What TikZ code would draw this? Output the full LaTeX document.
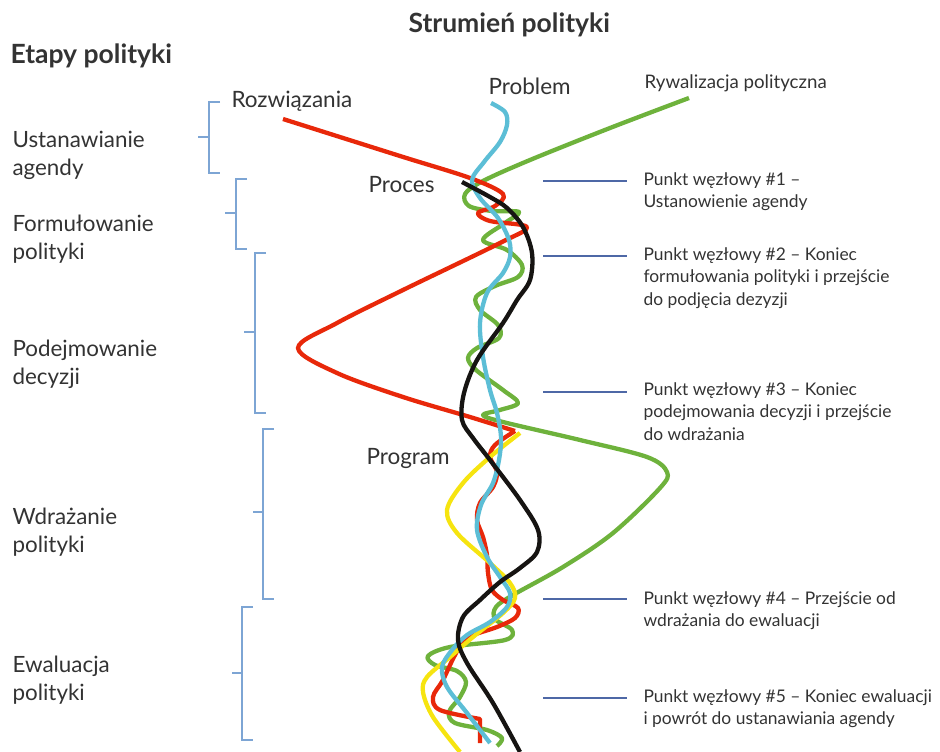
\documentclass[tikz,border=0pt]{standalone}
\usepackage{fontspec}
\setmainfont{Lato}
\usetikzlibrary{positioning}

\definecolor{txtgray}{RGB}{51,51,51}
\definecolor{brkblue}{RGB}{125,165,212}
\definecolor{lineblue}{RGB}{78,104,166}
\definecolor{strred}{RGB}{232,40,10}
\definecolor{strgreen}{RGB}{110,178,60}
\definecolor{strcyan}{RGB}{92,190,214}
\definecolor{stryellow}{RGB}{246,228,16}
\definecolor{strblack}{RGB}{22,20,18}

\tikzset{
  stage/.style={anchor=west, align=left, text=txtgray, font=\fontsize{22.4}{28}\selectfont},
  head/.style={anchor=west, text=txtgray, font=\fontsize{26.5}{30}\selectfont\bfseries},
  note/.style={anchor=north west, align=left, text=txtgray, font=\fontsize{17.4}{22.5}\selectfont},
  lbl/.style={anchor=west, text=txtgray, font=\fontsize{22.5}{26}\selectfont},
  brk/.style={draw=brkblue, line width=2pt},
  juncture/.style={draw=lineblue, line width=2pt},
  stream/.style={line width=4.3pt, line join=round, line cap=butt}
}

\begin{document}
\begin{tikzpicture}[x=1pt,y=1pt,yscale=-1,xscale=1]
\path[use as bounding box] (0,0) rectangle (940,752);

% Headings
\draw (405,25) node (strumien) [head] {Strumień polityki};
\draw (7,56) node (etapy) [head] {Etapy polityki};

% Stages of policy
\draw (9,155) node (agenda) [stage] {Ustanawianie\\agendy};
\draw (9,239) node (formul) [stage] {Formułowanie\\polityki};
\draw (9,364.5) node (decyzje) [stage] {Podejmowanie\\decyzji};
\draw (9,532) node (wdraz) [stage] {Wdrażanie\\polityki};
\draw (9,680.5) node (ewal) [stage] {Ewaluacja\\polityki};

%Shape: Brackets
\draw [brk] (220,102) -- (209,102) -- (209,173) -- (220,173) (198,137) -- (209,137);
\draw [brk] (247,179) -- (236,179) -- (236,249) -- (247,249) (225,213) -- (236,213);
\draw [brk] (266,253) -- (255,253) -- (255,413) -- (266,413) (244,332) -- (255,332);
\draw [brk] (274,429) -- (263,429) -- (263,599) -- (274,599) (253,512) -- (263,512);
\draw [brk] (253,607) -- (242,607) -- (242,740) -- (253,740) (232,673) -- (242,673);

% Stream labels
\draw (228,101) node (rozw) [lbl] {Rozwiązania};
\draw (485,86) node (probl) [lbl] {Problem};
\draw (641,83) node (rywal) [lbl, font=\fontsize{18.7}{22}\selectfont] {Rywalizacja polityczna};
\draw (365,185) node (proces) [lbl] {Proces};
\draw (363,458) node (progr) [lbl] {Program};

%Straight Lines: critical junctures
\draw [juncture] (543,181) -- (627,181);
\draw [juncture] (543,256) -- (627,256);
\draw [juncture] (543,392) -- (627,392);
\draw [juncture] (543,599) -- (627,599);
\draw [juncture] (543,698) -- (627,698);

% Text Node
\draw (640,169) node (pw1) [note] {Punkt węzłowy \#1 –\\Ustanowienie agendy};
\draw (640,244) node (pw2) [note] {Punkt węzłowy \#2 – Koniec\\formułowania polityki i przejście\\do podjęcia dezyzji};
\draw (640,379) node (pw3) [note] {Punkt węzłowy \#3 – Koniec\\podejmowania decyzji i przejście\\do wdrażania};
\draw (640,588) node (pw4) [note] {Punkt węzłowy \#4 – Przejście od\\wdrażania do ewaluacji};
\draw (640,686) node (pw5) [note] {Punkt węzłowy \#5 – Koniec ewaluacji\\i powrót do ustanawiania agendy};

%Curve: Rywalizacja polityczna
\draw [stream, strgreen] plot [smooth, tension=0.55] coordinates {
  (689,98) (610,128) (530,160) (483,181) (465,194) (469,206) (492,211) (519,212)
  (505,223) (483,240) (507,250) (522,265) (518,277) (495,286) (476,297) (480,310)
  (498,325) (499,338) (477,348) (468,358) (476,370) (503,390) (518,403) (500,410)
  (483,415) (503,422) (580,440) (647,457) (667,472) (660,488) (613,533) (563,567)
  (513,595) (496,607) (495,619) (512,630) (505,640) (450,647) (428,656) (435,665)
  (457,671) (466,682) (460,697) (449,712) (455,723) (487,730) (502,738) (497,746)};

%Curve: Rozwiązania
\draw [stream, strred] plot [smooth, tension=0.55] coordinates {
  (283,119) (400,156) (470,178) (503,194) (495,206) (478,213) (490,221) (527,227)
  (500,243) (403,290) (337,323) (298,348) (337,373) (403,397) (470,417) (515,431)};
\draw [stream, strred] plot [smooth, tension=0.55] coordinates {
  (515,431) (495,445) (490,457) (497,472) (493,487) (480,503) (477,520) (483,537)
  (487,555) (488,573) (492,590) (503,600) (518,608) (515,618) (497,627) (467,638)
  (455,655) (443,680) (433,697) (440,710) (480,719)} -- (480,743);

%Curve: Program
\draw [stream, stryellow] plot [smooth, tension=0.55] coordinates {
  (520,433) (490,457) (463,483) (447,510) (457,533) (490,563) (510,583) (515,598)
  (503,613) (473,637) (450,657) (427,677) (423,692) (433,717) (460,752)};

%Curve: Problem
\draw [stream, strcyan] plot [smooth, tension=0.55] coordinates {
  (491,103) (505,112) (507,125) (500,142) (484,162) (472,180) (480,198) (498,218)
  (509,240) (510,257) (503,273) (487,293) (480,323) (483,357) (490,390) (497,413)
  (501,437) (499,460) (493,483) (481,505) (477,530) (487,557) (500,577) (510,593)
  (507,607) (490,622) (467,635) (452,650) (442,667) (447,687) (467,713) (490,743)};

%Curve: Proces
\draw [stream, strblack] plot [smooth, tension=0.55] coordinates {
  (462,182) (490,197) (507,208) (523,227) (532,253) (530,280) (517,300) (503,323)
  (477,360) (464,393) (462,420) (473,438) (490,460) (520,500) (538,530) (537,552)
  (520,568) (500,582) (480,600) (463,617) (458,640) (467,663) (493,703) (520,752)};
\end{tikzpicture}
\end{document}
